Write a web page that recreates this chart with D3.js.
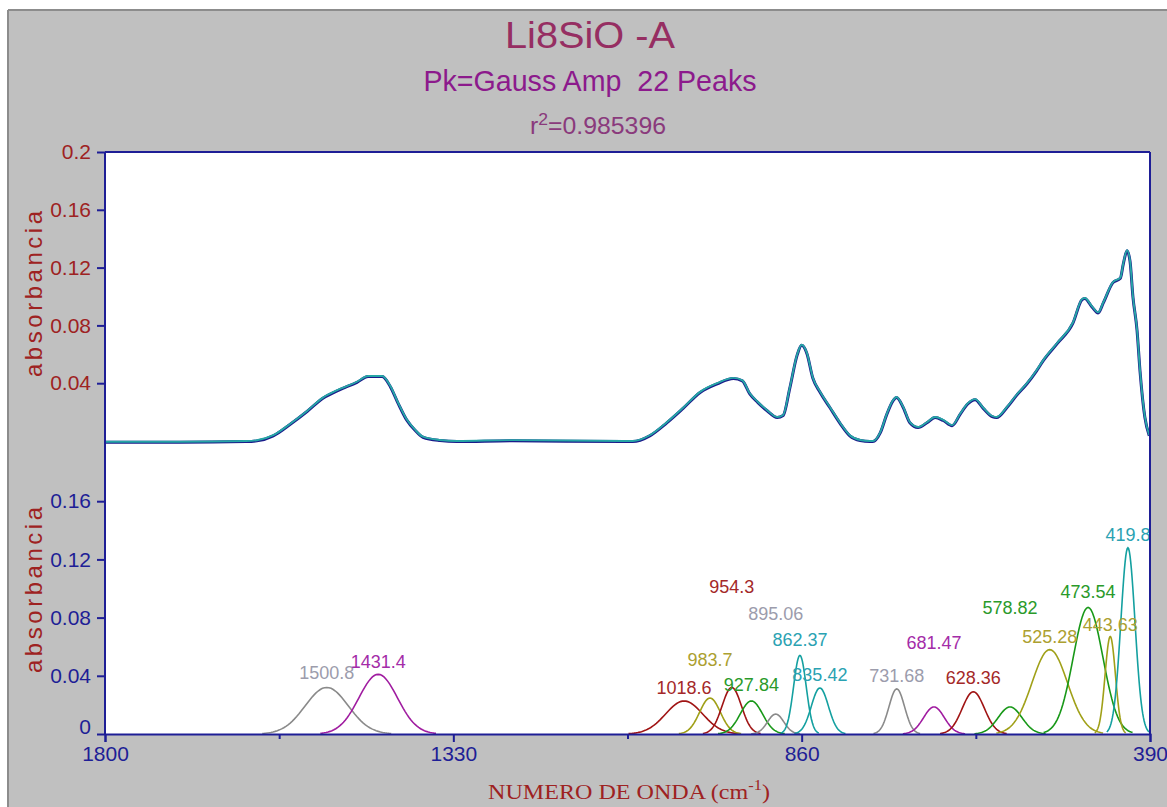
<!DOCTYPE html>
<html><head><meta charset="utf-8">
<script src="https://cdn.jsdelivr.net/npm/d3@7"></script>
<style>body{margin:0;background:#fff}svg{display:block}</style>
</head><body>
<svg id="c" width="1167" height="807"></svg>
<script>
// ---------- data ----------
const titleText = "Li8SiO -A";
const subtitleText = "Pk=Gauss Amp  22 Peaks";
const r2Value = "=0.985396";
const xTickValues = [1800, 1330, 860, 390];
const xMinorTicks = [1565, 1095, 625];
const topYTicks = [0.04, 0.08, 0.12, 0.16, 0.2];
const topYLabels = ["0.04", "0.08", "0.12", "0.16", "0.2"];
const botYTicks = [0, 0.04, 0.08, 0.12, 0.16];
const botYLabels = ["0", "0.04", "0.08", "0.12", "0.16"];

const peakCenters = [1500.8, 1431.4, 1018.6, 983.7, 954.3, 927.84, 895.06, 862.37, 835.42, 731.68, 681.47, 628.36, 578.82, 525.28, 473.54, 443.63, 419.8];
const peakAmps    = [0.032, 0.041, 0.0227, 0.0247, 0.032, 0.0227, 0.0137, 0.054, 0.0316, 0.031, 0.0186, 0.029, 0.0186, 0.058, 0.087, 0.067, 0.128];
const peakSigmas  = [29, 26, 25, 14, 13, 15, 11, 8.5, 11.5, 10.5, 14, 15, 16, 24, 20, 7, 9.5];
const peakLabelLevels = [0.042, 0.050, 0.032, 0.051, 0.101, 0.034, 0.083, 0.065, 0.041, 0.040, 0.0625, 0.0385, 0.087, 0.067, 0.098, 0.075, 0.137];
const peakColorKeys = ["gray", "purple", "red", "olive", "red", "green", "gray", "teal", "teal", "gray", "purple", "red", "green", "olive", "green", "olive", "teal"];

const spectrumWn  = [1800, 1700, 1610, 1595, 1573, 1550, 1527, 1506, 1483, 1460, 1445, 1426, 1415, 1405, 1393, 1382, 1371, 1348, 1325, 1250, 1100, 1088, 1065, 1042, 1020, 997, 974, 952, 940, 930, 919, 907, 893, 885, 876, 866, 860, 853, 845, 835, 822, 808, 795, 781, 768, 764, 754, 745, 737, 732, 723, 714, 703, 691, 680, 669, 657, 646, 636, 626, 615, 603, 597, 583, 570, 556, 543, 534, 515, 494, 482, 478, 468, 460, 453, 440, 430, 426, 421, 417, 413, 407.5, 403.5, 397, 391];
const spectrumAbs = [-0.0005, -0.0005, 0, 0.0005, 0.004, 0.012, 0.021, 0.030, 0.036, 0.041, 0.045, 0.045, 0.038, 0.027, 0.015, 0.008, 0.003, 0.0007, 0, 0.0006, 0, 0, 0.004, 0.013, 0.023, 0.034, 0.040, 0.0437, 0.042, 0.033, 0.027, 0.0215, 0.0166, 0.018, 0.037, 0.060, 0.0666, 0.061, 0.044, 0.034, 0.0236, 0.0125, 0.004, 0.0007, 0, 0, 0.006, 0.019, 0.028, 0.0305, 0.0236, 0.013, 0.0097, 0.013, 0.0166, 0.0146, 0.011, 0.019, 0.026, 0.029, 0.023, 0.0173, 0.0166, 0.0236, 0.032, 0.040, 0.049, 0.056, 0.068, 0.082, 0.098, 0.099, 0.093, 0.089, 0.096, 0.110, 0.113, 0.123, 0.132, 0.125, 0.100, 0.077, 0.049, 0.017, 0.004];

// ---------- styles ----------
const curveColor = {gray: "#8a8a8a", purple: "#a01ca0", red: "#a01414", olive: "#a0a018", green: "#189818", teal: "#14a0a0"};
const labelColor = {gray: "#9c9cac", purple: "#a42ca8", red: "#a42828", olive: "#aca030", green: "#2a9a2a", teal: "#2aa2b2"};
const axisBlue = "#1e1e96";
const darkRed = "#9e2222";
const fontSans = "'Liberation Sans', Arial, sans-serif";

const svg = d3.select("#c");
const W = 1167, H = 807;
const L = 105, R = 1150, T = 152, B = 734;

// background frame
svg.append("rect").attr("width", W).attr("height", H).attr("fill", "#ffffff");
svg.append("rect").attr("x", 8).attr("y", 10).attr("width", W - 8).attr("height", H - 10).attr("fill", "#c0c0c0");
svg.append("line").attr("x1", 8).attr("x2", 8).attr("y1", 10).attr("y2", H).attr("stroke", "#8c8c8c").attr("stroke-width", 2);
svg.append("line").attr("x1", 8).attr("x2", W).attr("y1", 10).attr("y2", 10).attr("stroke", "#8c8c8c").attr("stroke-width", 2);

// plot area
svg.append("rect").attr("x", L).attr("y", T).attr("width", R - L).attr("height", B - T).attr("fill", "#ffffff");

// scales
const x = d3.scaleLinear().domain([1800, 390]).range([L, R]);
const yTop = d3.scaleLinear().domain([0, 0.2]).range([441, T]);
const yBot = d3.scaleLinear().domain([0, 0.2]).range([B, 443]);

// titles
svg.append("text").attr("x", 590).attr("y", 48).attr("text-anchor", "middle")
  .attr("font-family", fontSans).attr("font-size", 36).attr("fill", "#962e62")
  .attr("textLength", 170).attr("lengthAdjust", "spacingAndGlyphs").text(titleText);
svg.append("text").attr("x", 590).attr("y", 91).attr("text-anchor", "middle")
  .attr("font-family", fontSans).attr("font-size", 29).attr("fill", "#8c1a8c")
  .style("white-space", "pre")
  .attr("textLength", 333).attr("lengthAdjust", "spacingAndGlyphs").text(subtitleText);
const r2 = svg.append("text").attr("x", 598).attr("y", 134).attr("text-anchor", "middle")
  .attr("font-family", fontSans).attr("font-size", 24).attr("fill", "#8a3a7c")
  .attr("textLength", 136).attr("lengthAdjust", "spacingAndGlyphs");
r2.append("tspan").text("r");
r2.append("tspan").attr("dy", -9).attr("font-size", 17).text("2");
r2.append("tspan").attr("dy", 9).text(r2Value);

// ---------- top panel: spectrum ----------
const spectrum = spectrumWn.map((w, i) => ({w, v: spectrumAbs[i]}));
const lineTop = d3.line().x(d => x(d.w)).y(d => yTop(d.v)).curve(d3.curveMonotoneX);
svg.append("path").datum(spectrum).attr("d", lineTop).attr("fill", "none")
  .attr("stroke", "#1a1a8a").attr("stroke-width", 3).attr("stroke-linejoin", "round")
  .attr("transform", "translate(0,0.6)");
svg.append("path").datum(spectrum).attr("d", lineTop).attr("fill", "none")
  .attr("stroke", "#26a6a6").attr("stroke-width", 1.9).attr("stroke-linejoin", "round");

// ---------- bottom panel: peaks ----------
const lineBot = d3.line().x(d => x(d.w)).y(d => yBot(d.v));
peakCenters.forEach((c, i) => {
  const a = peakAmps[i], s = peakSigmas[i];
  const pts = d3.range(-3, 3.0001, 0.1).map(k => ({w: c + k * s, v: a * Math.exp(-k * k / 2)}));
  svg.append("path").datum(pts).attr("d", lineBot).attr("fill", "none")
    .attr("stroke", curveColor[peakColorKeys[i]]).attr("stroke-width", 1.6);
});
peakCenters.forEach((c, i) => {
  svg.append("text").attr("x", x(c)).attr("y", yBot(peakLabelLevels[i])).attr("dy", "0.35em")
    .attr("text-anchor", "middle").attr("font-family", fontSans).attr("font-size", 18)
    .attr("fill", labelColor[peakColorKeys[i]]).text(String(c));
});

// ---------- axes ----------
svg.append("line").attr("x1", L).attr("x2", R).attr("y1", T).attr("y2", T).attr("stroke", axisBlue).attr("stroke-width", 2);
svg.append("line").attr("x1", R).attr("x2", R).attr("y1", T).attr("y2", B).attr("stroke", axisBlue).attr("stroke-width", 2);

const gTop = svg.append("g").attr("transform", `translate(${L},0)`)
  .call(d3.axisLeft(yTop).tickValues(topYTicks).tickFormat((d, i) => topYLabels[i]).tickSize(8).tickPadding(6));
gTop.select(".domain").remove();
gTop.selectAll("line").attr("stroke", axisBlue).attr("stroke-width", 2);
gTop.selectAll("text").attr("font-family", fontSans).attr("font-size", 21).attr("fill", darkRed);

const gBot = svg.append("g").attr("transform", `translate(${L},0)`)
  .call(d3.axisLeft(yBot).tickValues(botYTicks).tickFormat((d, i) => botYLabels[i]).tickSize(8).tickPadding(6));
gBot.select(".domain").remove();
gBot.selectAll("line").attr("stroke", axisBlue).attr("stroke-width", 2);
gBot.selectAll("text").attr("font-family", fontSans).attr("font-size", 21).attr("fill", axisBlue)
  .attr("y", d => d === 0 ? -7 : 0);

svg.append("line").attr("x1", L).attr("x2", L).attr("y1", T).attr("y2", B + 1).attr("stroke", axisBlue).attr("stroke-width", 2);

const gX = svg.append("g").attr("transform", `translate(0,${B})`)
  .call(d3.axisBottom(x).tickValues(xTickValues).tickFormat(d3.format("d")).tickSize(8).tickPadding(4));
gX.select(".domain").attr("stroke", axisBlue).attr("stroke-width", 2);
gX.selectAll("line").attr("stroke", axisBlue).attr("stroke-width", 2);
gX.selectAll("text").attr("font-family", fontSans).attr("font-size", 21).attr("fill", axisBlue);
const gXm = svg.append("g").attr("transform", `translate(0,${B})`)
  .call(d3.axisBottom(x).tickValues(xMinorTicks).tickFormat("").tickSize(5));
gXm.select(".domain").remove();
gXm.selectAll("line").attr("stroke", axisBlue).attr("stroke-width", 2);

// axis titles
[294, 590].forEach(cy => {
  svg.append("text").attr("transform", `translate(42,${cy}) rotate(-90)`)
    .attr("text-anchor", "middle").attr("font-family", fontSans).attr("font-size", 24)
    .attr("fill", darkRed).attr("textLength", 166).attr("lengthAdjust", "spacing").text("absorbancia");
});
const xt = svg.append("text").attr("x", 629).attr("y", 799).attr("text-anchor", "middle")
  .attr("font-family", "'Liberation Serif', 'Times New Roman', serif").attr("font-size", 22).attr("fill", darkRed)
  .attr("textLength", 282).attr("lengthAdjust", "spacingAndGlyphs");
xt.append("tspan").text("NUMERO DE ONDA (cm");
xt.append("tspan").attr("dy", -9).attr("font-size", 15).text("-1");
xt.append("tspan").attr("dy", 9).text(")");
</script>
</body></html>
